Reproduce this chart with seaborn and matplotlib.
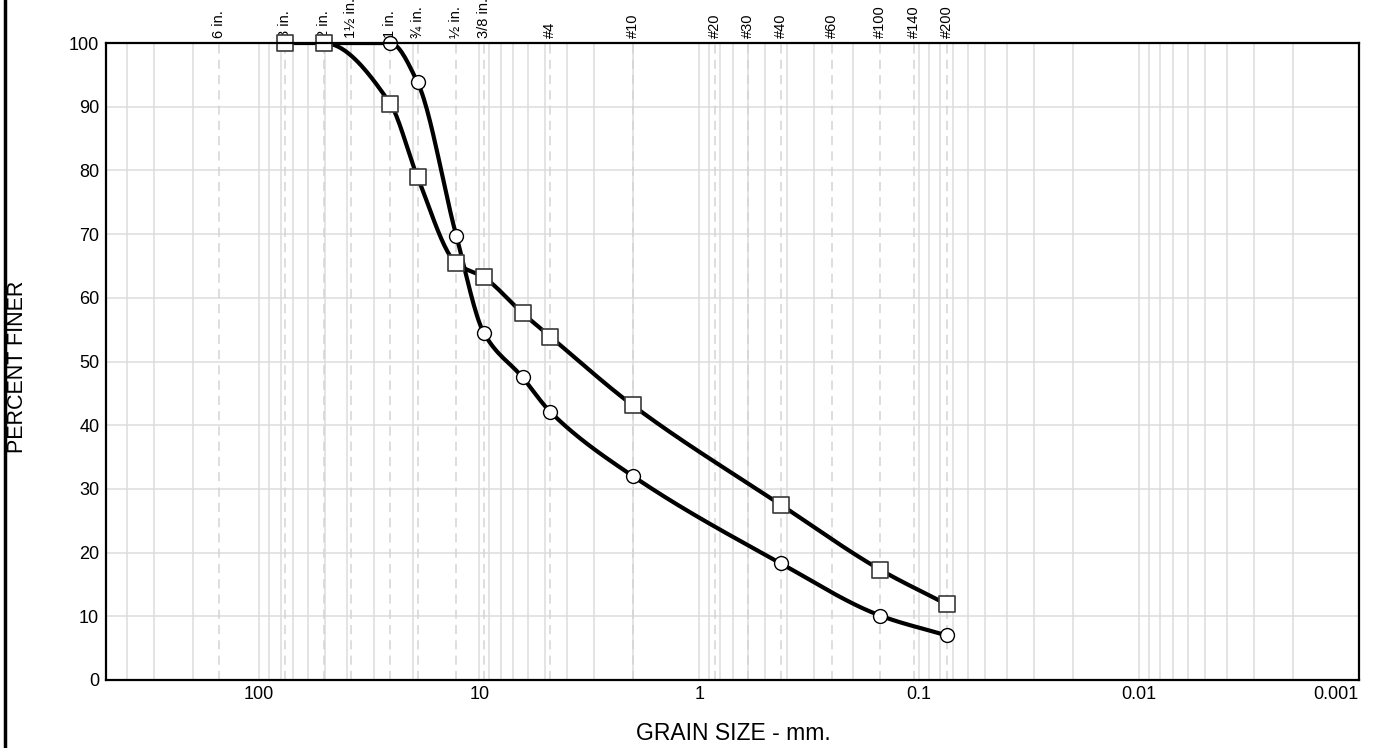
import numpy as np
import pandas as pd
import matplotlib
matplotlib.use("Agg")
import matplotlib.pyplot as plt
import seaborn as sns
from matplotlib.lines import Line2D

# sieve openings (mm) and their names
sieve_mm = [152.4, 76.2, 50.8, 38.1, 25.4, 19.05, 12.7, 9.525, 4.75, 2.0,
            0.85, 0.6, 0.425, 0.25, 0.15, 0.106, 0.075]
sieve_names = ["6 in.", "3 in.", "2 in.", "1½ in.", "1 in.", "¾ in.", "½ in.",
               "3/8 in.", "#4", "#10", "#20", "#30", "#40", "#60", "#100",
               "#140", "#200"]

# sample 1 (squares)
sq_size = [76.2, 50.8, 25.4, 19.05, 12.7, 9.525, 6.35, 4.75, 2.0, 0.425, 0.15, 0.075]
sq_finer = [100, 100, 90.5, 78.9, 65.4, 63.2, 57.6, 53.9, 43.1, 27.5, 17.3, 11.9]

# sample 2 (circles)
ci_size = [50.8, 25.4, 19.05, 12.7, 9.525, 6.35, 4.75, 2.0, 0.425, 0.15, 0.075]
ci_finer = [100, 100, 93.8, 69.7, 54.5, 47.5, 42.1, 32.0, 18.3, 10.1, 7.0]
ci_marker = [False, True, True, True, True, True, True, True, True, True, True]

y_ticks = [0, 10, 20, 30, 40, 50, 60, 70, 80, 90, 100]
x_ticks = [100, 10, 1, 0.1, 0.01, 0.001]
x_ticklabels = ["100", "10", "1", "0.1", "0.01", "0.001"]


def pchip(x, y, xn):
    # monotone cubic curve through the points, drawn in log space
    x = np.asarray(x, float)
    y = np.asarray(y, float)
    h = np.diff(x)
    d = np.diff(y) / h
    n = len(x)
    m = np.zeros(n)
    for k in range(1, n - 1):
        if d[k - 1] * d[k] > 0:
            w1 = 2 * h[k] + h[k - 1]
            w2 = h[k] + 2 * h[k - 1]
            m[k] = (w1 + w2) / (w1 / d[k - 1] + w2 / d[k])
    m[0] = d[0]
    m[-1] = d[-1]
    out = np.empty_like(xn)
    idx = np.clip(np.searchsorted(x, xn) - 1, 0, n - 2)
    for j, (xv, i) in enumerate(zip(xn, idx)):
        t = (xv - x[i]) / h[i]
        h00 = 2 * t**3 - 3 * t**2 + 1
        h10 = t**3 - 2 * t**2 + t
        h01 = -2 * t**3 + 3 * t**2
        h11 = t**3 - t**2
        out[j] = h00 * y[i] + h10 * h[i] * m[i] + h01 * y[i + 1] + h11 * h[i] * m[i + 1]
    return out


def smooth(size, finer):
    u = -np.log10(size)
    un = np.linspace(u[0], u[-1], 400)
    return pd.DataFrame({"size": 10 ** (-un), "finer": pchip(u, finer, un)})


sns.set_theme(style="white")
plt.rcParams["font.family"] = ["Liberation Sans", "DejaVu Sans"]

fig = plt.figure(figsize=(13.75, 7.48), dpi=100)
ax = fig.add_axes([105.5 / 1375, 1 - 680 / 748, (1359 - 105.5) / 1375, (680 - 43) / 748])
ax.set_xscale("log")
ax.set_xlim(500, 0.001)
ax.set_ylim(0, 100)

# grid: minor per decade, horizontal each 10 %
for dec in [100, 10, 1, 0.1, 0.01, 0.001]:
    for k in range(1, 10):
        v = dec * k
        if 0.001 < v < 500:
            ax.axvline(v, color="#dcdcdc", lw=1.1, zorder=0)
for v in y_ticks[1:-1]:
    ax.axhline(v, color="#dcdcdc", lw=1.1, zorder=0)
for s, name in zip(sieve_mm, sieve_names):
    ax.axvline(s, color="#d4d4d4", lw=1.1, ls=(0, (6, 4)), zorder=0.5)
    ax.annotate(name, xy=(s, 1.0), xycoords=("data", "axes fraction"),
                xytext=(0, 3.5), textcoords="offset points", rotation=90,
                ha="center", va="bottom", fontsize=10.5, color="black",
                annotation_clip=False)

sq_curve = smooth(sq_size, sq_finer)
ci_curve = smooth(ci_size, ci_finer)
sns.lineplot(data=ci_curve, x="size", y="finer", sort=False, estimator=None,
             color="black", lw=3.0, ax=ax, zorder=3)
sns.lineplot(data=sq_curve, x="size", y="finer", sort=False, estimator=None,
             color="black", lw=3.0, ax=ax, zorder=3)

ci_pts = pd.DataFrame({"size": ci_size, "finer": ci_finer})[ci_marker]
sns.scatterplot(data=ci_pts, x="size", y="finer", marker="o", s=100,
                facecolor="white", edgecolor="black", linewidth=1.0,
                ax=ax, zorder=4, clip_on=False)
sq_pts = pd.DataFrame({"size": sq_size, "finer": sq_finer})
sns.scatterplot(data=sq_pts, x="size", y="finer", marker="s", s=125,
                facecolor="white", edgecolor="#3a3a3a", linewidth=1.2,
                ax=ax, zorder=4, clip_on=False)

ax.set_xticks(x_ticks)
ax.set_xticklabels(x_ticklabels)
ax.get_xticklabels()[-1].set_horizontalalignment("right")
ax.minorticks_off()
ax.set_yticks(y_ticks)
ax.tick_params(axis="both", length=0, labelsize=13, colors="black", pad=4.5)
ax.set_xlabel("")
ax.set_ylabel("")
for sp in ax.spines.values():
    sp.set_color("black")
    sp.set_linewidth(1.6)
    sp.set_zorder(5)

fig.text(733 / 1375, 1 - 734 / 748, "GRAIN SIZE - mm.", ha="center", va="center",
         fontsize=16.5, color="black")
fig.text(18 / 1375, 1 - 367 / 748, "PERCENT FINER", ha="center", va="center",
         rotation=90, fontsize=15.5, color="black")

# page border on the left
fig.add_artist(Line2D([5 / 1375, 5 / 1375], [0, 1], transform=fig.transFigure,
                      color="black", lw=2.5))

fig.savefig("out.png", dpi=100)
